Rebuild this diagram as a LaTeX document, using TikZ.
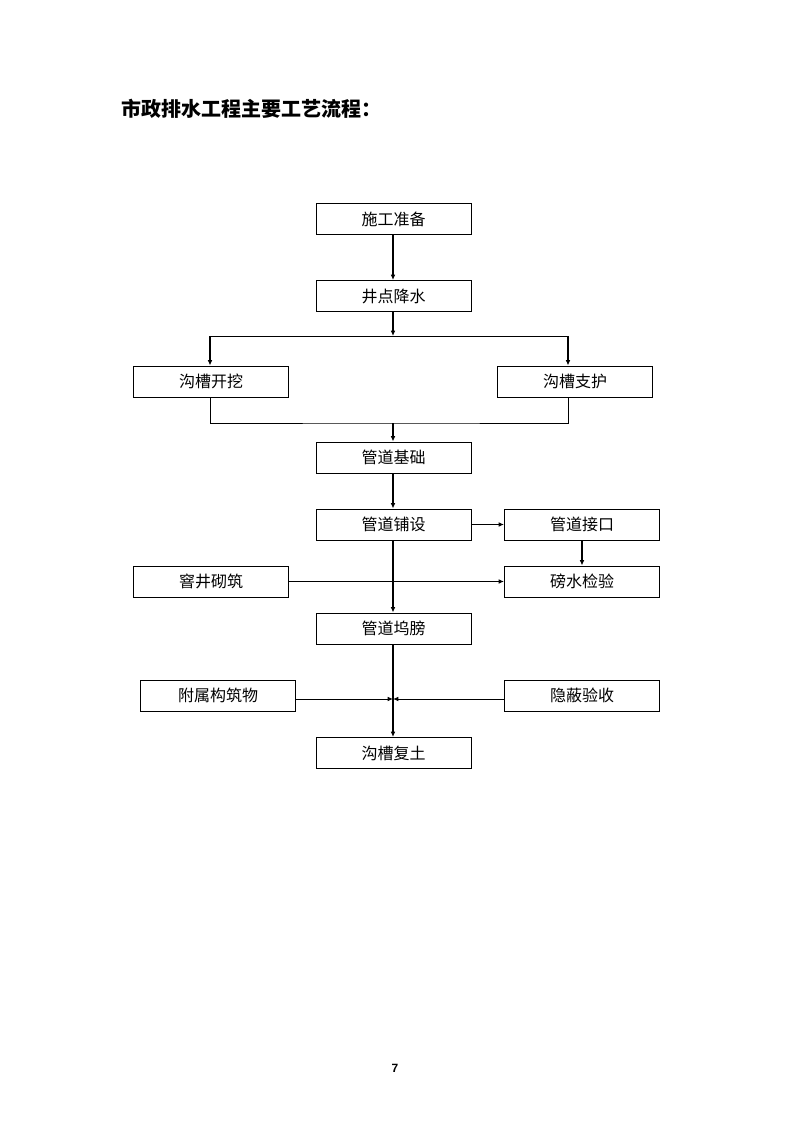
\documentclass[tikz,border=0pt]{standalone}
\usepackage{fontspec}
\setmainfont{Liberation Sans}
\newfontfamily\cjk{Noto Sans CJK SC}
\usepackage{tikz}
\usetikzlibrary{arrows.meta, positioning}
\tikzstyle{process} = [rectangle, draw, line width=0.75pt, minimum width=116.25pt, minimum height=23.25pt, inner sep=0pt, text centered, font=\cjk\fontsize{12pt}{14pt}\selectfont]
\tikzstyle{flow} = [line width=1.5pt, -{Latex[length=4pt,width=3.5pt]}]
\tikzstyle{side} = [line width=0.75pt, -{Latex[length=4pt,width=3.5pt]}]
\tikzstyle{link} = [line width=0.75pt]

\begin{document}
\begin{tikzpicture}[x=0.75pt, y=-0.75pt]
    \useasboundingbox (0,0) rectangle (795,1123);

    % Title
    \node[anchor=west, inner sep=0pt, font=\cjk\bfseries\fontsize{15pt}{18pt}\selectfont] (title) at (121,109) {市政排水工程主要工艺流程：};

    % Main column
    \node[process] (prep) at (393.5,219.5) {施工准备};
    \node[process] (dewater) at (393.5,296) {井点降水};
    \node[process] (dig) at (211,381.5) {沟槽开挖};
    \node[process] (support) at (575,381.5) {沟槽支护};
    \node[process] (base) at (393.5,457.5) {管道基础};
    \node[process] (lay) at (393.5,524.5) {管道铺设};
    \node[process] (haunch) at (393.5,628.5) {管道坞膀};
    \node[process] (backfill) at (393.5,753) {沟槽复土};

    % Side boxes
    \node[process] (joint) at (582,524.5) {管道接口};
    \node[process] (well) at (211,581.5) {窨井砌筑};
    \node[process] (test) at (582,581.5) {磅水检验};
    \node[process] (aux) at (218,695.5) {附属构筑物};
    \node[process] (hidden) at (582,695.5) {隐蔽验收};

    % Junctions
    \coordinate (split) at (393,336);
    \coordinate (merge) at (393,423);
    \coordinate (meet) at (393,699);
    \coordinate (left) at (210,336);
    \coordinate (right) at (568,336);

    % Arrows
    \draw[flow] (prep.south -| split) -- (dewater.north -| split);
    \draw[flow] (dewater.south -| split) -- (split);
    \draw[link] (left) -- (right);
    \draw[flow] (left) -- (left |- dig.north);
    \draw[flow] (right) -- (right |- support.north);
    \draw[link] (left |- dig.south) |- (merge) -| (right |- support.south);
    \draw[flow] (merge) -- (merge |- base.north);
    \draw[flow] (base.south -| split) -- (lay.north -| split);
    \draw[side] (lay) -- (joint);
    \draw[flow] (joint) -- (test);
    \draw[side] (well) -- (test);
    \draw[flow] (lay.south -| split) -- (haunch.north -| split);
    \draw[flow] (haunch.south -| split) -- (backfill.north -| split);
    \draw[side] (aux.east |- meet) -- (meet);
    \draw[side] (hidden.west |- meet) -- (meet);

    % Page number
    \node[font=\bfseries\fontsize{9pt}{10pt}\selectfont] (pagenum) at (395,1068) {7};
\end{tikzpicture}
\end{document}
